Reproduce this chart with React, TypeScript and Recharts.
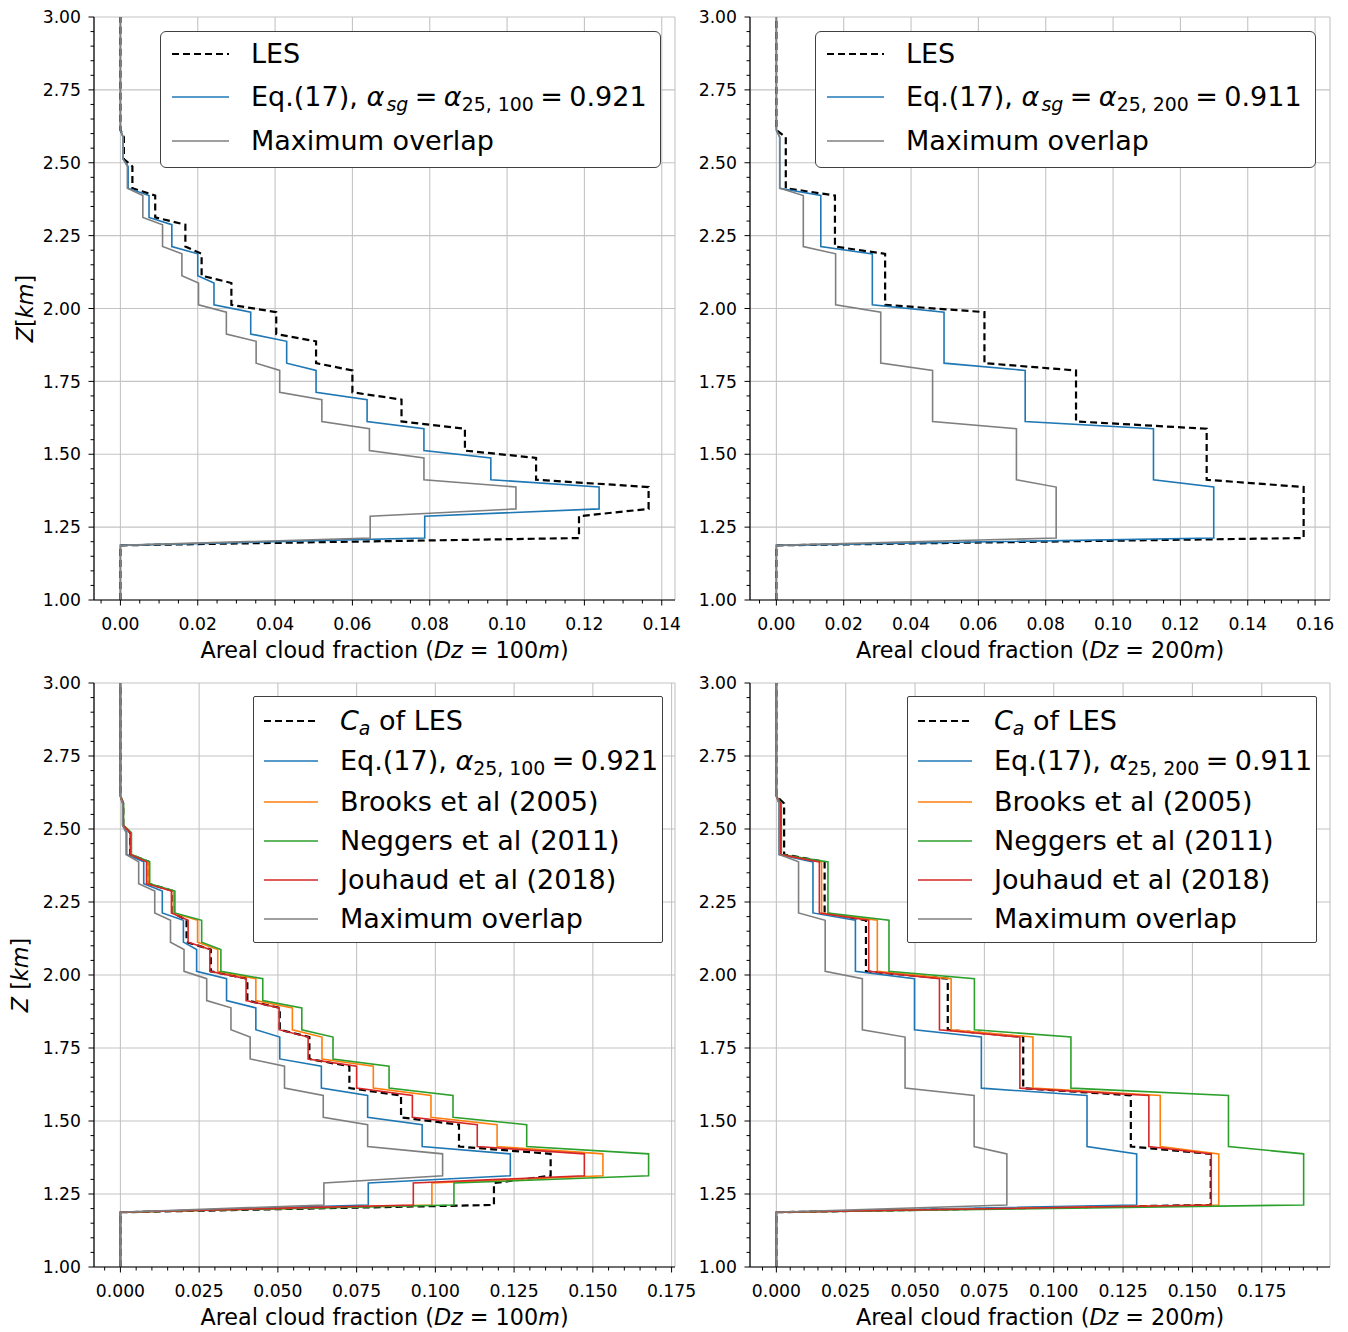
import React from 'react';
import { LineChart, Line, XAxis, YAxis, CartesianGrid } from 'recharts';

const font = '"DejaVu Sans", sans-serif';

// layer bottoms in km
const layers100 = [1.2, 1.3, 1.4, 1.5, 1.6, 1.7, 1.8, 1.9, 2.0, 2.1, 2.2, 2.3, 2.4, 2.5];
const layers200 = [1.2, 1.4, 1.6, 1.8, 2.0, 2.2, 2.4];

// Dz = 100 m
const les100 = [0.1186, 0.1366, 0.1075, 0.0891, 0.0727, 0.06, 0.0506, 0.0403, 0.0287, 0.021, 0.0168, 0.009, 0.0031, 0.0009];
const eq100 = [0.0787, 0.1238, 0.0958, 0.0785, 0.0638, 0.0506, 0.043, 0.0337, 0.0242, 0.02, 0.0133, 0.0074, 0.002, 0.0007];
const max100 = [0.0646, 0.1023, 0.0785, 0.0644, 0.0521, 0.0412, 0.0351, 0.0274, 0.0202, 0.0159, 0.0109, 0.0058, 0.0018, 0.0007];
const brooks100 = [0.0989, 0.1532, 0.1196, 0.0986, 0.0803, 0.064, 0.0546, 0.043, 0.0309, 0.0245, 0.0168, 0.0088, 0.0033, 0.0009];
const neggers100 = [0.1059, 0.1677, 0.129, 0.1056, 0.0853, 0.0675, 0.0576, 0.0452, 0.0319, 0.0258, 0.0173, 0.0093, 0.0035, 0.001];
const jouhaud100 = [0.093, 0.1473, 0.1133, 0.0927, 0.075, 0.0596, 0.0504, 0.0399, 0.0284, 0.0215, 0.0162, 0.0083, 0.0031, 0.0009];

// Dz = 200 m
const les200 = [0.1566, 0.1278, 0.089, 0.0618, 0.0323, 0.0174, 0.0028];
const eq200 = [0.1299, 0.112, 0.0739, 0.0498, 0.0285, 0.0132, 0.001];
const max200 = [0.0831, 0.0713, 0.0464, 0.031, 0.0176, 0.008, 0.001];
const brooks200 = [0.1595, 0.1384, 0.0925, 0.063, 0.0364, 0.0163, 0.0015];
const neggers200 = [0.1901, 0.163, 0.1062, 0.0714, 0.0406, 0.0186, 0.0018];
const jouhaud200 = [0.1568, 0.1343, 0.0878, 0.0588, 0.0333, 0.0155, 0.0015];

const xTicks100 = [0, 0.02, 0.04, 0.06, 0.08, 0.1, 0.12, 0.14];
const xTicks200 = [0, 0.02, 0.04, 0.06, 0.08, 0.1, 0.12, 0.14, 0.16];
const xTicksBottom = [0, 0.025, 0.05, 0.075, 0.1, 0.125, 0.15, 0.175];
const yTicks = [1.0, 1.25, 1.5, 1.75, 2.0, 2.25, 2.5, 2.75, 3.0];

const halfGrid = 0.0125; // half of the 25 m model level spacing
const zMin = 1.0;
const zMax = 3.0;

type Pt = { v: number; z: number };

function profile(bottoms: number[], dz: number, vals: number[]): Pt[] {
  const pts: Pt[] = [{ v: 0, z: zMin }, { v: 0, z: bottoms[0] - halfGrid }];
  bottoms.forEach((b, i) => {
    pts.push({ v: vals[i], z: b + halfGrid });
    pts.push({ v: vals[i], z: b + dz - halfGrid });
  });
  pts.push({ v: 0, z: bottoms[bottoms.length - 1] + dz + halfGrid });
  pts.push({ v: 0, z: zMax });
  return pts;
}

const C = { les: '#000000', eq: '#1f77b4', brooks: '#ff7f0e', neggers: '#2ca02c', jouhaud: '#d62728', max: '#7f7f7f' };

const TICK_FONT = 17.2;

const Sub = ({ children, it, ml }: { children: React.ReactNode; it?: boolean; ml?: string }) => (
  <span style={{ fontSize: '0.7em', verticalAlign: '-0.28em', fontStyle: it ? 'italic' : 'normal', marginLeft: ml }}>{children}</span>
);
const I = ({ children }: { children: React.ReactNode }) => <span style={{ fontStyle: 'italic' }}>{children}</span>;
const Eqs = () => <span style={{ margin: '0 0.24em' }}>=</span>;

type Series = { key: string; label: React.ReactNode; color: string; dashed?: boolean; data: Pt[] };

function multiples(lo: number, hi: number, step: number) {
  const out: number[] = [];
  for (let k = Math.ceil(lo / step - 1e-9); k * step <= hi + 1e-9; k++) out.push(+(k * step).toFixed(4));
  return out;
}
const isIn = (list: number[], v: number) => list.some((m) => Math.abs(m - v) < 1e-7);

const XTick = (props: any) => {
  const { x, y, payload, majors, digits } = props;
  const val = payload.value as number;
  const major = isIn(majors, val);
  const len = major ? 5.5 : 3.5;
  return (
    <g>
      <line x1={x} y1={y} x2={x} y2={y + len} stroke="#000" strokeWidth={1} />
      {major && (
        <text x={x} y={y + 18} dy="0.71em" textAnchor="middle" fontSize={TICK_FONT} fontFamily={font} fill="#000">
          {val.toFixed(digits)}
        </text>
      )}
    </g>
  );
};

const YTick = (props: any) => {
  const { x, y, payload } = props;
  const val = payload.value as number;
  const major = isIn(yTicks, val);
  const len = major ? 5.5 : 3.5;
  return (
    <g>
      <line x1={x - len} y1={y} x2={x} y2={y} stroke="#000" strokeWidth={1} />
      {major && (
        <text x={x - 13} y={y} dy="0.36em" textAnchor="end" fontSize={TICK_FONT} fontFamily={font} fill="#000">
          {val.toFixed(2)}
        </text>
      )}
    </g>
  );
};

const XLabel = (props: any) => {
  const { viewBox, dz } = props;
  return (
    <text x={viewBox.x + viewBox.width / 2} y={viewBox.y + 58} textAnchor="middle" fontFamily={font} fontSize={22.3} fill="#000">
      {'Areal cloud fraction ('}
      <tspan fontStyle="italic">Dz</tspan>
      {' = ' + dz}
      <tspan fontStyle="italic">m</tspan>
      {')'}
    </text>
  );
};

const YLabel = (props: any) => {
  const { viewBox, gap, dx } = props;
  const cx = viewBox.x + dx;
  const cy = viewBox.y + viewBox.height / 2;
  return (
    <text transform={`translate(${cx},${cy}) rotate(-90)`} textAnchor="middle" dy="0.36em" fontFamily={font} fontSize={22.3} fill="#000">
      <tspan fontStyle="italic">Z</tspan>
      {gap ? ' [' : '['}
      <tspan fontStyle="italic">km</tspan>
      {']'}
    </text>
  );
};

type LegendSpec = { left: number; top: number; width: number; height: number; radius: number; rows: number[]; lineX: [number, number]; textX: number };

const LegendBox = ({ spec, items }: { spec: LegendSpec; items: Series[] }) => (
  <div
    style={{
      position: 'absolute', left: spec.left, top: spec.top, width: spec.width, height: spec.height,
      border: '1.3px solid #404040', borderRadius: spec.radius, background: '#fff', boxSizing: 'border-box',
      fontFamily: font, fontSize: 27, color: '#000',
    }}
  >
    {items.map((s, i) => (
      <div key={s.key} style={{ position: 'absolute', left: 0, top: spec.rows[i] - 20, height: 40, width: '100%' }}>
        <svg width={spec.lineX[1] - spec.lineX[0]} height={40} style={{ position: 'absolute', left: spec.lineX[0], top: 0 }}>
          <line x1={0} y1={20} x2={spec.lineX[1] - spec.lineX[0]} y2={20} stroke={s.color}
            strokeWidth={s.dashed ? 2.2 : 1.6} strokeDasharray={s.dashed ? '7 4' : undefined} />
        </svg>
        <span style={{ position: 'absolute', left: spec.textX, top: 0, lineHeight: '40px', whiteSpace: 'nowrap' }}>{s.label}</span>
      </div>
    ))}
  </div>
);

type PanelProps = {
  left: number; top: number; height: number; rightMargin: number;
  series: Series[]; xMajor: number[]; digits: number; dz: number;
  yLabel?: { gap: boolean; dx: number }; legend: LegendSpec;
};

const PANEL_W = 715;

function Panel({ left, top, height, rightMargin, series, xMajor, digits, dz, yLabel, legend }: PanelProps) {
  const maxV = Math.max(...series.flatMap((s) => s.data.map((p) => p.v)));
  const xDomain: [number, number] = [-0.05 * maxV, 1.05 * maxV];
  const xAll = multiples(xDomain[0], xDomain[1], 0.005);
  const yAll = multiples(zMin, zMax, 0.05);
  return (
    <div style={{ position: 'absolute', left, top, width: PANEL_W, height }}>
      <LineChart width={PANEL_W} height={height} margin={{ top: 17, right: rightMargin, bottom: 0, left: 0 }}>
        <XAxis xAxisId="grid" type="number" dataKey="v" domain={xDomain} ticks={xMajor} allowDataOverflow hide />
        <YAxis yAxisId="grid" type="number" domain={[zMin, zMax]} ticks={yTicks} allowDataOverflow hide />
        <CartesianGrid xAxisId="grid" yAxisId="grid" stroke="#c4c4c4" strokeWidth={1.1} />
        <XAxis
          xAxisId={0} type="number" dataKey="v" domain={xDomain} ticks={xAll} interval={0} allowDataOverflow
          height={80} tickLine={false} tickSize={0} tickMargin={0} axisLine={{ stroke: '#000', strokeWidth: 1.2 }}
          tick={(p: any) => <XTick {...p} majors={xMajor} digits={digits} />}
          label={<XLabel dz={dz} />}
        />
        <YAxis
          yAxisId={0} type="number" domain={[zMin, zMax]} ticks={yAll} interval={0} allowDataOverflow
          width={94} tickLine={false} tickSize={0} tickMargin={0} axisLine={{ stroke: '#000', strokeWidth: 1.2 }}
          tick={(p: any) => <YTick {...p} />}
          label={yLabel ? <YLabel gap={yLabel.gap} dx={yLabel.dx} /> : undefined}
        />
        <XAxis xAxisId="top" orientation="top" type="number" domain={xDomain} allowDataOverflow height={0}
          tick={false} tickLine={false} axisLine={{ stroke: '#000', strokeWidth: 1.2 }} />
        <YAxis yAxisId="right" orientation="right" type="number" domain={[zMin, zMax]} allowDataOverflow width={0}
          tick={false} tickLine={false} axisLine={{ stroke: '#000', strokeWidth: 1.2 }} />
        {series.map((s) => (
          <Line
            key={s.key} name={s.key} data={s.data} dataKey="z" type="linear"
            stroke={s.color} strokeWidth={s.dashed ? 2.2 : 1.6} strokeDasharray={s.dashed ? '7 4' : undefined}
            dot={false} activeDot={false} isAnimationActive={false}
          />
        ))}
      </LineChart>
      <LegendBox spec={legend} items={series} />
    </div>
  );
}

const eqLabel = (sub: string, val: string, sg: boolean) => (
  <>
    {'Eq.(17), '}
    {sg && (
      <>
        <I>α</I>
        <Sub it ml="0.12em">sg</Sub>
        <Eqs />
      </>
    )}
    <I>α</I>
    <Sub>{sub}</Sub>
    <Eqs />
    {val}
  </>
);

const topLegend = (left: number): LegendSpec => ({
  left, top: 31, width: 501, height: 137, radius: 6, rows: [22, 65, 109], lineX: [10.5, 68], textX: 90,
});
const bottomLegend = (left: number): LegendSpec => ({
  left, top: 30, width: 410, height: 247, radius: 2, rows: [23.5, 63.5, 104.5, 143.5, 182.5, 222], lineX: [10, 64], textX: 86,
});

export default function App() {
  const tl: Series[] = [
    { key: 'les', label: 'LES', color: C.les, dashed: true, data: profile(layers100, 0.1, les100) },
    { key: 'eq', label: eqLabel('25, 100', '0.921', true), color: C.eq, data: profile(layers100, 0.1, eq100) },
    { key: 'max', label: 'Maximum overlap', color: C.max, data: profile(layers100, 0.1, max100) },
  ];
  const tr: Series[] = [
    { key: 'les', label: 'LES', color: C.les, dashed: true, data: profile(layers200, 0.2, les200) },
    { key: 'eq', label: eqLabel('25, 200', '0.911', true), color: C.eq, data: profile(layers200, 0.2, eq200) },
    { key: 'max', label: 'Maximum overlap', color: C.max, data: profile(layers200, 0.2, max200) },
  ];
  const caLabel = (
    <>
      <I>C</I>
      <Sub it>a</Sub>
      {' of LES'}
    </>
  );
  const bl: Series[] = [
    { key: 'les', label: caLabel, color: C.les, dashed: true, data: profile(layers100, 0.1, les100) },
    { key: 'eq', label: eqLabel('25, 100', '0.921', false), color: C.eq, data: profile(layers100, 0.1, eq100) },
    { key: 'brooks', label: 'Brooks et al (2005)', color: C.brooks, data: profile(layers100, 0.1, brooks100) },
    { key: 'neggers', label: 'Neggers et al (2011)', color: C.neggers, data: profile(layers100, 0.1, neggers100) },
    { key: 'jouhaud', label: 'Jouhaud et al (2018)', color: C.jouhaud, data: profile(layers100, 0.1, jouhaud100) },
    { key: 'max', label: 'Maximum overlap', color: C.max, data: profile(layers100, 0.1, max100) },
  ];
  const br: Series[] = [
    { key: 'les', label: caLabel, color: C.les, dashed: true, data: profile(layers200, 0.2, les200) },
    { key: 'eq', label: eqLabel('25, 200', '0.911', false), color: C.eq, data: profile(layers200, 0.2, eq200) },
    { key: 'brooks', label: 'Brooks et al (2005)', color: C.brooks, data: profile(layers200, 0.2, brooks200) },
    { key: 'neggers', label: 'Neggers et al (2011)', color: C.neggers, data: profile(layers200, 0.2, neggers200) },
    { key: 'jouhaud', label: 'Jouhaud et al (2018)', color: C.jouhaud, data: profile(layers200, 0.2, jouhaud200) },
    { key: 'max', label: 'Maximum overlap', color: C.max, data: profile(layers200, 0.2, max200) },
  ];

  return (
    <div style={{ position: 'absolute', left: 0, top: 0, width: 1348, height: 1332, background: '#fff', fontFamily: font, overflow: 'hidden' }}>
      <Panel left={0} top={0} height={680} rightMargin={PANEL_W - 675} series={tl} xMajor={xTicks100} digits={2} dz={100}
        yLabel={{ gap: false, dx: 25 }} legend={topLegend(160)} />
      <Panel left={656} top={0} height={680} rightMargin={PANEL_W - 674} series={tr} xMajor={xTicks200} digits={2} dz={200}
        legend={topLegend(159)} />
      <Panel left={0} top={666} height={681} rightMargin={PANEL_W - 675} series={bl} xMajor={xTicksBottom} digits={3} dz={100}
        yLabel={{ gap: true, dx: 20 }} legend={bottomLegend(253)} />
      <Panel left={656} top={666} height={681} rightMargin={PANEL_W - 674} series={br} xMajor={xTicksBottom} digits={3} dz={200}
        legend={bottomLegend(251)} />
    </div>
  );
}
